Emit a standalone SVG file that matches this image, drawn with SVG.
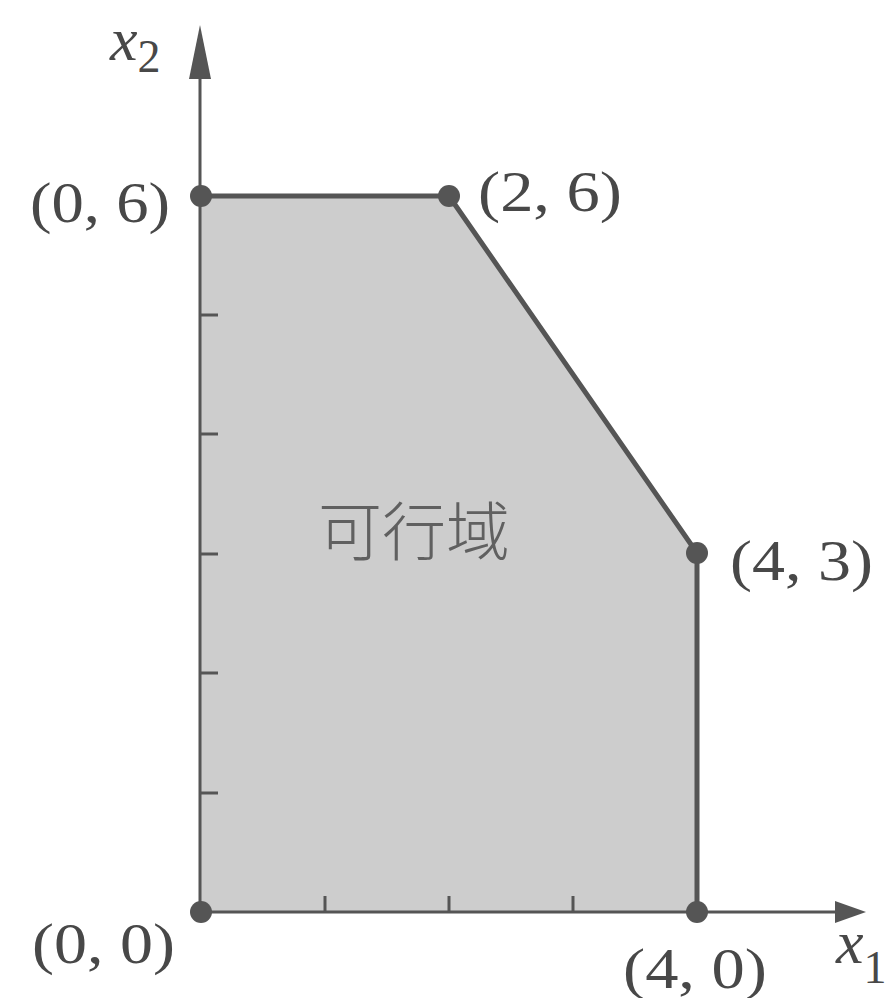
<svg xmlns="http://www.w3.org/2000/svg" width="891" height="998" viewBox="0 0 891 998">
<style>
.lbl{font-family:"Liberation Serif","Times New Roman",serif;font-size:58px;fill:#484848}
.var{font-family:"Liberation Serif","Times New Roman",serif;font-size:62px;font-style:italic;fill:#484848}
.sub{font-family:"Liberation Serif","Times New Roman",serif;font-size:46px;font-style:normal;fill:#484848}
.axis{stroke:#555;stroke-width:3;fill:none}
.edge{stroke:#555;stroke-width:5;fill:none;stroke-linejoin:round}
.tick{stroke:#555;stroke-width:3}
.pt{fill:#555}
</style>
<rect width="891" height="998" fill="#fff"/>
<g id="region">
<polygon points="201,912 201,196 449,196 697,553 697,912" fill="#cdcdcd"/>
</g>
<g id="connectors">
<line class="axis" x1="200" y1="912" x2="200" y2="78"/>
<polygon points="200,25 189,79 211,79" fill="#555"/>
<line class="axis" x1="201" y1="912" x2="836" y2="912"/>
<polygon points="866,912 835,901 835,923" fill="#555"/>
<polyline class="edge" points="201,196 449,196 697,553 697,912"/>
<line class="tick" x1="201" y1="793" x2="218" y2="793"/>
<line class="tick" x1="201" y1="673" x2="218" y2="673"/>
<line class="tick" x1="201" y1="554" x2="218" y2="554"/>
<line class="tick" x1="201" y1="434" x2="218" y2="434"/>
<line class="tick" x1="201" y1="315" x2="218" y2="315"/>
<line class="tick" x1="325" y1="912" x2="325" y2="896"/>
<line class="tick" x1="449" y1="912" x2="449" y2="896"/>
<line class="tick" x1="573" y1="912" x2="573" y2="896"/>
</g>
<g id="p00"><circle class="pt" cx="201" cy="912" r="11"/><text class="lbl" x="32" y="963" textLength="143" lengthAdjust="spacingAndGlyphs">(0, 0)</text></g>
<g id="p06"><circle class="pt" cx="201" cy="196" r="11"/><text class="lbl" x="30" y="222" textLength="140" lengthAdjust="spacingAndGlyphs">(0, 6)</text></g>
<g id="p26"><circle class="pt" cx="449" cy="196" r="11"/><text class="lbl" x="478" y="211" textLength="144" lengthAdjust="spacingAndGlyphs">(2, 6)</text></g>
<g id="p43"><circle class="pt" cx="697" cy="553" r="11"/><text class="lbl" x="730" y="580" textLength="143" lengthAdjust="spacingAndGlyphs">(4, 3)</text></g>
<g id="p40"><circle class="pt" cx="697" cy="912" r="11"/><text class="lbl" x="623" y="988" textLength="144" lengthAdjust="spacingAndGlyphs">(4, 0)</text></g>
<g id="x2label"><text class="var" x="110" y="60">x<tspan class="sub" dy="12">2</tspan></text></g>
<g id="x1label"><text class="var" x="836" y="963">x<tspan class="sub" dy="20">1</tspan></text></g>
<g id="feasible"><text x="414" y="555" text-anchor="middle" style="font-family:'Noto Sans CJK SC',sans-serif;font-size:64px;font-weight:300;fill:#606060">可行域</text></g>
</svg>
